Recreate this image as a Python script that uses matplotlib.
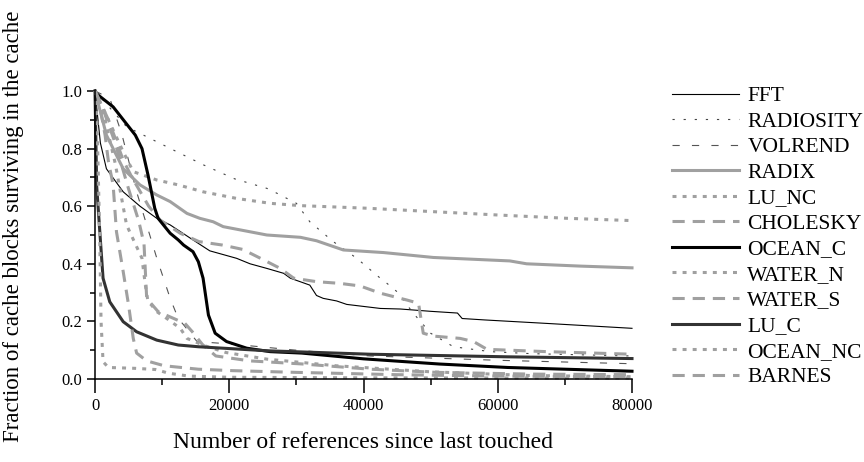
import matplotlib
matplotlib.use("Agg")
import matplotlib.pyplot as plt
from matplotlib.ticker import MultipleLocator, FormatStrFormatter

plt.rcParams["font.family"] = ["Liberation Serif", "DejaVu Serif"]

# Survival curves: x in thousands of references, y = fraction surviving
x_fft = [0, 0.8, 1.7, 4.2, 6.7, 9.2, 11.2, 14.2, 17.1, 21.1, 23.1, 25.6, 28.1, 29.1,
         32, 33, 34, 36, 37.5, 42.5, 45.5, 50, 54, 54.7, 58.1, 67.3, 80]
y_fft = [1.0, 0.82, 0.73, 0.65, 0.60, 0.558, 0.535, 0.489, 0.445, 0.419, 0.40, 0.384,
         0.367, 0.35, 0.326, 0.29, 0.28, 0.271, 0.259, 0.245, 0.243, 0.235, 0.229,
         0.21, 0.205, 0.193, 0.176]

x_radiosity = [0, 4.7, 12.2, 16.2, 20.8, 25.6, 27.1, 30, 32, 35.5, 39, 42.5, 43.5, 45,
               47.4, 50, 53.4, 58.9, 65, 80]
y_radiosity = [1.0, 0.876, 0.789, 0.743, 0.695, 0.662, 0.645, 0.61, 0.546, 0.477, 0.419,
               0.35, 0.332, 0.303, 0.229, 0.159, 0.112, 0.095, 0.088, 0.08]

x_volrend = [0, 2.2, 4, 6.2, 9.2, 11.2, 12.4, 13.2, 15.2, 20.5, 30, 41, 60, 80]
y_volrend = [1.0, 0.975, 0.85, 0.65, 0.42, 0.28, 0.21, 0.188, 0.13, 0.121, 0.1, 0.08,
             0.065, 0.053]

x_radix = [0, 1.7, 4.2, 6.7, 9.2, 11.2, 13.7, 15.6, 17.6, 19.1, 25.6, 30.6, 33, 37, 43,
           50.4, 61.8, 64.3, 72.3, 80]
y_radix = [1.0, 0.847, 0.73, 0.674, 0.639, 0.616, 0.575, 0.558, 0.546, 0.529, 0.5, 0.492,
           0.48, 0.448, 0.439, 0.422, 0.41, 0.40, 0.392, 0.386]

x_lu_nc = [0, 1.2, 4.2, 5.7, 9.2, 12.4, 16.1, 21.1, 26.1, 30.6, 40.5, 50.4, 60.4, 70.3, 80]
y_lu_nc = [1.0, 0.94, 0.789, 0.72, 0.691, 0.674, 0.65, 0.627, 0.61, 0.602, 0.593, 0.581,
           0.569, 0.558, 0.55]

x_cholesky = [0, 2, 4.2, 5.5, 8, 9.7, 12.7, 15.5, 19, 22, 25, 27.6, 29.6, 33, 36.5, 39.5,
              42.5, 46.5, 48.2, 48.9, 50.4, 54.4, 56.4, 58.4, 67.3, 80]
y_cholesky = [1.0, 0.9, 0.76, 0.7, 0.6, 0.552, 0.506, 0.477, 0.465, 0.45, 0.415, 0.384,
              0.35, 0.338, 0.332, 0.323, 0.298, 0.274, 0.263, 0.159, 0.149, 0.141, 0.13,
              0.103, 0.095, 0.086]

x_ocean_c = [0, 0.25, 2.7, 6, 7, 7.9, 8.9, 9.4, 10.4, 11.2, 12.4, 13.2, 14.6, 15.4, 16.1,
             16.9, 17.9, 19.6, 22.6, 26.1, 30.8, 40, 51.3, 61.5, 80]
y_ocean_c = [1.0, 0.99, 0.945, 0.847, 0.80, 0.708, 0.593, 0.558, 0.529, 0.506, 0.483,
             0.465, 0.442, 0.407, 0.35, 0.222, 0.159, 0.13, 0.107, 0.095, 0.09, 0.07,
             0.052, 0.04, 0.027]

x_water_n = [0, 1.5, 3, 4.7, 7, 7.5, 7.9, 8.4, 9.2, 10.7, 12.7, 13.7, 16.4, 19.5, 25.6,
             35.9, 50, 65, 80]
y_water_n = [1.0, 0.9, 0.75, 0.535, 0.419, 0.326, 0.268, 0.257, 0.234, 0.21, 0.176, 0.141,
             0.115, 0.092, 0.069, 0.046, 0.025, 0.012, 0.008]

x_water_s = [0, 1, 3, 5, 6.5, 7.3, 7.7, 9.4, 13.4, 14.5, 16, 18, 23, 31, 41, 51, 65, 80]
y_water_s = [1.0, 0.95, 0.82, 0.66, 0.55, 0.47, 0.28, 0.234, 0.193, 0.164, 0.12, 0.08,
             0.063, 0.052, 0.034, 0.023, 0.017, 0.015]

x_lu_c = [0, 0.25, 0.75, 1.2, 2.2, 4.2, 6.2, 9.2, 12.4, 15.4, 25.6, 41, 61.5, 80]
y_lu_c = [1.0, 0.67, 0.5, 0.35, 0.268, 0.199, 0.164, 0.135, 0.118, 0.112, 0.098, 0.086,
          0.077, 0.071]

x_ocean_nc = [0, 0.3, 0.7, 0.9, 1.2, 2, 6, 9, 11, 14, 20, 40, 80]
y_ocean_nc = [1.0, 0.9, 0.5, 0.2, 0.06, 0.04, 0.037, 0.033, 0.02, 0.01, 0.006, 0.004,
              0.003]

x_barnes = [0, 0.5, 1.5, 2, 2.7, 3.2, 4.2, 5, 5.7, 6.2, 7.7, 10.3, 15.4, 20.5, 30, 45,
            60, 80]
y_barnes = [1.0, 0.975, 0.847, 0.755, 0.674, 0.511, 0.373, 0.257, 0.141, 0.09, 0.063,
            0.046, 0.034, 0.029, 0.023, 0.015, 0.01, 0.008]

GRAY = "#a0a0a0"
THIN, THICK = 0.8, 2.2
SOLID = None
DOT_THIN = (2.0, 8.0)
DASH_THIN = (6.5, 11.0)
DOT_THICK = (1.3, 2.0)
DASH_THICK = (4.0, 2.6)

series = [
    ("FFT", x_fft, y_fft, "black", THIN, SOLID),
    ("RADIOSITY", x_radiosity, y_radiosity, "#444444", THIN, DOT_THIN),
    ("VOLREND", x_volrend, y_volrend, "#555555", THIN, DASH_THIN),
    ("RADIX", x_radix, y_radix, GRAY, THICK, SOLID),
    ("LU_NC", x_lu_nc, y_lu_nc, GRAY, THICK, DOT_THICK),
    ("CHOLESKY", x_cholesky, y_cholesky, GRAY, THICK, DASH_THICK),
    ("OCEAN_C", x_ocean_c, y_ocean_c, "black", THICK, SOLID),
    ("WATER_N", x_water_n, y_water_n, GRAY, THICK, DOT_THICK),
    ("WATER_S", x_water_s, y_water_s, GRAY, THICK, DASH_THICK),
    ("LU_C", x_lu_c, y_lu_c, "#333333", THICK, SOLID),
    ("OCEAN_NC", x_ocean_nc, y_ocean_nc, GRAY, THICK, DOT_THICK),
    ("BARNES", x_barnes, y_barnes, GRAY, THICK, DASH_THICK),
]

fig = plt.figure(figsize=(8.64, 4.62), dpi=100)
ax = fig.add_axes([95 / 864, 1 - 379 / 462, 537 / 864, 288 / 462])

for name, xs, ys, color, lw, dashes in series:
    (line,) = ax.plot([v * 1000 for v in xs], ys, color=color, lw=lw, label=name,
                      solid_joinstyle="round", clip_on=False)
    if dashes is not None:
        line.set_dashes(dashes)

ax.set_xlim(0, 80000)
ax.set_ylim(0, 1.0)
ax.xaxis.set_major_locator(MultipleLocator(20000))
ax.xaxis.set_minor_locator(MultipleLocator(10000))
ax.yaxis.set_major_locator(MultipleLocator(0.2))
ax.yaxis.set_minor_locator(MultipleLocator(0.1))
ax.yaxis.set_major_formatter(FormatStrFormatter("%.1f"))

for side in ("top", "right"):
    ax.spines[side].set_visible(False)
for side in ("left", "bottom"):
    ax.spines[side].set_linewidth(1.1)

ax.tick_params(axis="x", which="major", direction="out", length=10, width=1.1,
               labelsize=12, pad=4)
ax.tick_params(axis="x", which="minor", direction="out", length=4.5, width=1.1)
ax.tick_params(axis="y", which="major", direction="out", length=6, width=1.1,
               labelsize=12, pad=3)
ax.tick_params(axis="y", which="minor", direction="out", length=3.5, width=1.1)

fig.text(363 / 864, 1 - 443 / 462, "Number of references since last touched",
         ha="center", va="center", fontsize=17)
fig.text(14 / 864, 1 - 226 / 462, "Fraction of cache blocks surviving in the cache",
         ha="center", va="center", rotation=90, fontsize=16.5)

ax.legend(loc="upper left", bbox_to_anchor=(672 / 864, 1 - 86 / 462),
          bbox_transform=fig.transFigure, frameon=False, fontsize=15.5,
          handlelength=3.1, handletextpad=0.4, labelspacing=0.255,
          borderpad=0, borderaxespad=0)

fig.savefig("out.png", dpi=100)
